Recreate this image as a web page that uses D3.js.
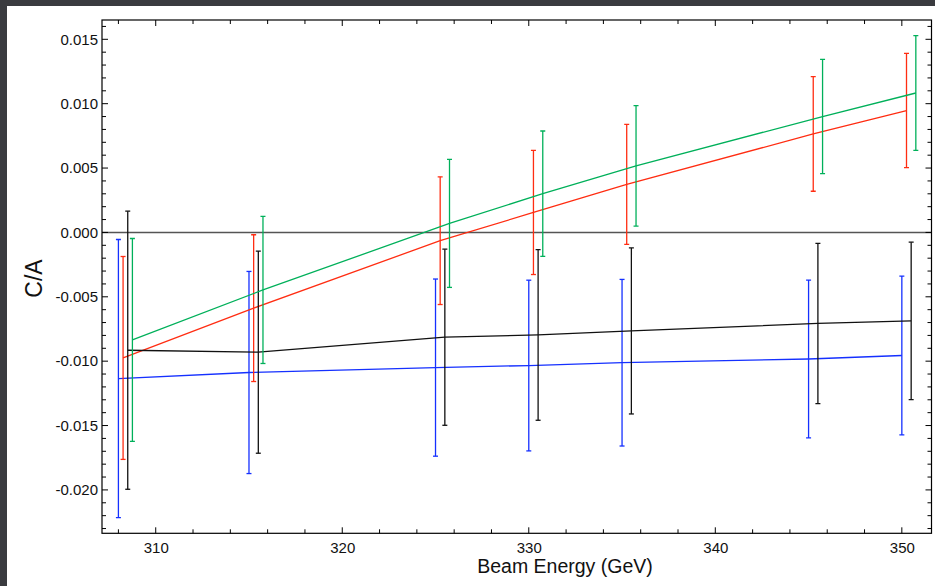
<!DOCTYPE html>
<html><head><meta charset="utf-8">
<script src="https://cdn.jsdelivr.net/npm/d3@7"></script>
<style>
html,body{margin:0;padding:0;background:#fff;}
svg{display:block;font-family:"Liberation Sans",Arial,Helvetica,sans-serif;}
</style></head>
<body>
<svg id="c" width="935" height="586"></svg>
<script>
// ---- data ----
const xTickLabels = [310, 320, 330, 340, 350];
const yTickLabels = [-0.020, -0.015, -0.010, -0.005, 0.000, 0.005, 0.010, 0.015];

const blueX  = [308.0, 315.0, 325.0, 330.0, 335.0, 345.0, 350.0];
const blueC  = [-0.01135, -0.01088, -0.0105, -0.01034, -0.01012, -0.00983, -0.00956];
const blueE  = [0.0108, 0.00785, 0.00688, 0.00663, 0.00647, 0.00613, 0.00617];

const redX   = [308.25, 315.25, 325.25, 330.25, 335.25, 345.25, 350.25];
const redC   = [-0.00975, -0.00588, -0.00064, 0.00155, 0.00373, 0.00765, 0.00947];
const redE   = [0.00788, 0.0057, 0.00496, 0.00482, 0.00466, 0.00445, 0.00444];

const blackX = [308.5, 315.5, 325.5, 330.5, 335.5, 345.5, 350.5];
const blackC = [-0.00915, -0.0093, -0.00814, -0.00796, -0.00765, -0.00707, -0.00687];
const blackE = [0.0108, 0.00785, 0.00684, 0.00663, 0.00645, 0.00622, 0.00611];

const greenX = [308.75, 315.75, 325.75, 330.75, 335.75, 345.75, 350.75];
const greenC = [-0.00835, -0.00447, 0.0007, 0.00301, 0.00517, 0.009, 0.01083];
const greenE = [0.00788, 0.00571, 0.00497, 0.00487, 0.00468, 0.00444, 0.00445];

const series = [
  {x: blueX,  c: blueC,  e: blueE,  color: "#1530ff"},
  {x: redX,   c: redC,   e: redE,   color: "#ff2d12"},
  {x: blackX, c: blackC, e: blackE, color: "#111111"},
  {x: greenX, c: greenC, e: greenE, color: "#00b05a"}
];

// ---- layout ----
const W = 935, H = 586;
const L = 102, R = 931.5, T = 20, B = 533.3;
const svg = d3.select("#c");

// dark frame
svg.append("rect").attr("x",0).attr("y",0).attr("width",W).attr("height",H).attr("fill","#3a3b3f");
svg.append("rect").attr("x",7).attr("y",6).attr("width",W-7).attr("height",H-6).attr("fill","#ffffff");

const x = d3.scaleLinear().domain([307.12, 351.59]).range([L, R]);
const y = d3.scaleLinear().domain([-0.02337, 0.0165]).range([B, T]);

const g = svg.append("g");

// clip
svg.append("clipPath").attr("id","clip").append("rect")
  .attr("x",L).attr("y",T).attr("width",R-L).attr("height",B-T);

// zero line
g.append("line").attr("x1",L).attr("x2",R).attr("y1",y(0)).attr("y2",y(0))
  .attr("stroke","#555").attr("stroke-width",1.5);

const plot = g.append("g").attr("clip-path","url(#clip)");
series.forEach(s => {
  const pts = s.x.map((xv,i)=>({x:xv,c:s.c[i],e:s.e[i]}));
  plot.append("path").datum(pts)
    .attr("d", d3.line().x(d=>x(d.x)).y(d=>y(d.c)))
    .attr("fill","none").attr("stroke",s.color).attr("stroke-width",1.3);
  const eb = plot.append("g").attr("stroke",s.color).attr("stroke-width",1.3);
  pts.forEach(d=>{
    const px = x(d.x);
    eb.append("line").attr("x1",px).attr("x2",px).attr("y1",y(d.c+d.e)).attr("y2",y(d.c-d.e));
    eb.append("line").attr("x1",px-2.5).attr("x2",px+2.5).attr("y1",y(d.c+d.e)).attr("y2",y(d.c+d.e));
    eb.append("line").attr("x1",px-2.5).attr("x2",px+2.5).attr("y1",y(d.c-d.e)).attr("y2",y(d.c-d.e));
  });
});

// axes
const fmtRaw = d3.format(".3f");
const fmt = v => fmtRaw(v).replace("\u2212","-");
const minorY = d3.range(-23, 17).map(v=>v/1000);
const minorX = d3.range(308, 352, 2);

const axL = d3.axisLeft(y).tickValues(yTickLabels).tickFormat(fmt).tickSize(0).tickPadding(4);
const axB = d3.axisBottom(x).tickValues(xTickLabels).tickFormat(d3.format("d")).tickSize(0).tickPadding(5);

const gl = svg.append("g").attr("transform",`translate(${L},0)`).call(axL);
const gb = svg.append("g").attr("transform",`translate(0,${B})`).call(axB);
[gl,gb].forEach(a=>{
  a.select(".domain").remove();
  a.selectAll("text").attr("font-size","15px").attr("fill","#111")
   .attr("font-family","'Liberation Sans',Arial,sans-serif");
});
gb.selectAll("text").attr("dy","0.95em");

const ticks = svg.append("g").attr("stroke","#000").attr("stroke-width",1);
minorY.forEach(v=>{
  const major = yTickLabels.some(t=>Math.abs(t-v)<1e-9);
  const len = major?6:4;
  ticks.append("line").attr("x1",L).attr("x2",L+len).attr("y1",y(v)).attr("y2",y(v));
  ticks.append("line").attr("x1",R).attr("x2",R-len).attr("y1",y(v)).attr("y2",y(v));
});
minorX.forEach(v=>{
  const major = xTickLabels.includes(v);
  const len = major?6:4;
  ticks.append("line").attr("y1",B).attr("y2",B-len).attr("x1",x(v)).attr("x2",x(v));
  ticks.append("line").attr("y1",T).attr("y2",T+len).attr("x1",x(v)).attr("x2",x(v));
});

// frame
svg.append("rect").attr("x",L).attr("y",T).attr("width",R-L).attr("height",B-T)
  .attr("fill","none").attr("stroke","#000").attr("stroke-width",1.2);

// axis titles
svg.append("text").attr("x",565).attr("y",573).attr("text-anchor","middle")
  .attr("font-size","19.5px").attr("fill","#111").text("Beam Energy (GeV)");
svg.append("text").attr("transform","translate(41.5,278.5) rotate(-90)")
  .attr("text-anchor","middle").attr("font-size","23px").attr("fill","#111").text("C/A");
</script>
</body></html>
